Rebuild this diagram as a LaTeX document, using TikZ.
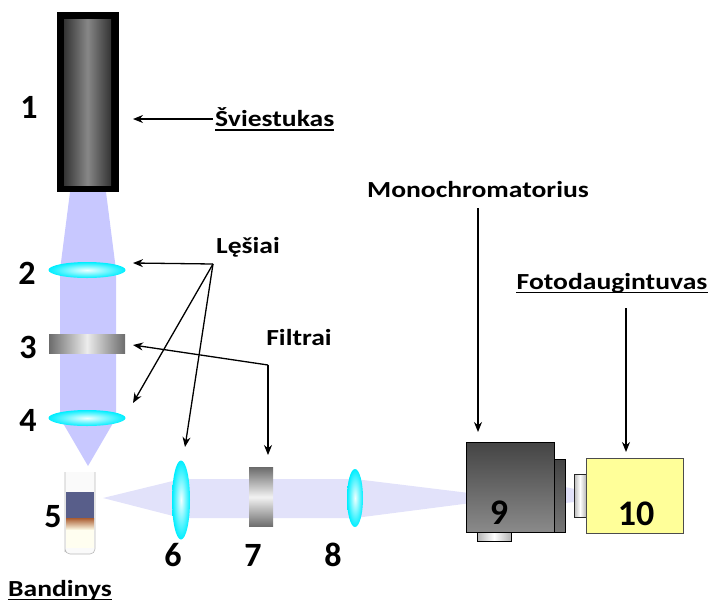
\documentclass[tikz,border=0pt]{standalone}
\usepackage{fontspec}
\setmainfont{Carlito}
\newfontfamily\labfont[FakeStretch=1.2]{Carlito}
\usetikzlibrary{arrows.meta,shapes.geometric}

\definecolor{beamv}{RGB}{200,200,255}
\definecolor{beamh}{RGB}{226,226,250}
\definecolor{lenscyan}{RGB}{0,238,255}
\definecolor{liquid}{RGB}{88,94,138}
\definecolor{band}{RGB}{170,92,48}
\definecolor{pmtyellow}{RGB}{255,255,153}
\definecolor{boxtop}{RGB}{68,68,68}
\definecolor{boxbot}{RGB}{138,138,138}
\definecolor{lampedge}{RGB}{52,52,52}
\definecolor{lampmid}{RGB}{135,135,135}

\tikzset{
  lbl/.style={font=\labfont\bfseries\fontsize{23}{23}\selectfont, inner sep=0pt},
  num/.style={font=\bfseries\fontsize{34}{34}\selectfont, inner sep=0pt},
  bignum/.style={font=\bfseries\fontsize{36}{36}\selectfont, inner sep=0pt},
  ptr/.style={line width=1.3pt, -{Stealth[length=10pt,width=8pt]}},
  lensbox/.style={ellipse, draw=none, inner sep=0pt, inner color=cyan!6!white, outer color=lenscyan},
  filterh/.style={rectangle, draw=none, inner sep=0pt, left color=gray!85!black, right color=gray!85!black, middle color=gray!15},
  filterv/.style={rectangle, draw=none, inner sep=0pt, top color=gray!85!black, bottom color=gray!85!black, middle color=gray!10},
  uline/.style={line width=1.4pt},
}

\begin{document}
\begin{tikzpicture}[x=1pt,y=-1pt]
\useasboundingbox (0,0) rectangle (713,606);

% light beams
\fill[beamv] (70,192) -- (106,192) -- (116,270) -- (116,418) -- (88,466) -- (60,418) -- (60,270) -- cycle;
\fill[beamh] (103,498) -- (181,479) -- (355,479) -- (510,498) -- (355,518) -- (181,518) -- cycle;
\fill[beamh] (565,487) -- (575,489) -- (575,502) -- (565,503) -- cycle;

% lamp
\node[rectangle, fill=black, minimum width=62pt, minimum height=180pt, inner sep=0pt] (lamp) at (88,102) {};
\shade[left color=lampedge, right color=lampedge, middle color=lampmid] (64,19) rectangle (111,185);

% vertical optics
\node[lensbox, minimum width=77pt, minimum height=16pt] (L2) at (87,270) {};
\node[filterh, minimum width=76pt, minimum height=19pt] (F3) at (87,344) {};
\node[lensbox, minimum width=77pt, minimum height=16pt] (L4) at (87,418) {};

% horizontal optics
\node[lensbox, minimum width=18pt, minimum height=79pt] (L6) at (181,500) {};
\node[filterv, minimum width=24pt, minimum height=59pt] (F7) at (261,497) {};
\node[lensbox, minimum width=16pt, minimum height=58pt] (L8) at (355,498) {};

% sample tube
\draw[gray!55, line width=0.6pt, fill=white!96!gray] (65,472) -- (65,552) [rounded corners=5pt] -- (65,554) -- (95,554) [sharp corners] -- (95,472);
\fill[liquid] (66,492) rectangle (94,518);
\shade[top color=band, bottom color=white!92!yellow] (66,518) rectangle (94,530);
\fill[white!94!yellow] (66,530) rectangle (94,548);
\coordinate (tube) at (80,512);

% monochromator
\shade[top color=boxtop, bottom color=boxbot!85!black, draw=black, line width=0.6pt] (554,459) rectangle (565,532);
\node[rectangle, draw=black, line width=0.6pt, minimum width=88pt, minimum height=90pt, inner sep=0pt,
      top color=boxtop, bottom color=boxbot] (mono) at (510,487) {};
\shade[left color=gray!60, right color=gray!60, middle color=white, draw=black, line width=0.6pt] (477,532) rectangle (511,541);

% photomultiplier
\shade[left color=gray!55, right color=gray!55, middle color=white, draw=gray!30!black, line width=0.6pt] (574,474) rectangle (586,517);
\node[rectangle, draw=gray!60!black, line width=0.8pt, fill=pmtyellow, minimum width=97pt, minimum height=75pt, inner sep=0pt] (pmt) at (634.5,495.5) {};

% numbers
\node[num] (n1) at (29,107) {1};
\node[num] (n2) at (27,273) {2};
\node[num] (n3) at (28,347) {3};
\node[num] (n4) at (28,420) {4};
\node[num] (n5) at (53,517) {5};
\node[num] (n6) at (173,555) {6};
\node[num] (n7) at (253,555) {7};
\node[num] (n8) at (333,555) {8};
\node[bignum] (n9) at (499,513) {9};
\node[bignum] (n10) at (636,514) {10};

% captions
\node[lbl, anchor=west] (light) at (215,117) {Šviestukas};
\draw[uline] ([yshift=-3.5pt]light.base west) -- ([yshift=-3.5pt]light.base east);
\node[lbl] (lens) at (248,247) {Lęšiai};
\node[lbl] (filt) at (299,338) {Filtrai};
\node[lbl] (monolbl) at (478,190) {Monochromatorius};
\node[lbl] (pmtlbl) at (612,283) {Fotodaugintuvas};
\draw[uline] ([yshift=-3.5pt]pmtlbl.base west) -- ([yshift=-3.5pt]pmtlbl.base east);
\node[lbl] (sample) at (60,590) {Bandinys};
\draw[uline] ([yshift=-3.5pt]sample.base west) -- ([yshift=-3.5pt]sample.base east);

% pointer arrows
\coordinate (lampS) at (213,119);
\coordinate (lampT) at (133,119);
\draw[ptr] (lampS) -- (lampT);

\coordinate (lensApex) at (213,264);
\coordinate (lensT2) at (133,263);
\coordinate (lensT4) at (133,403);
\coordinate (lensT6) at (185,447);
\draw[ptr] (lensApex) -- (lensT2);
\draw[ptr] (lensApex) -- (lensT4);
\draw[ptr] (lensApex) -- (lensT6);

\coordinate (filtCorner) at (268,365);
\coordinate (filtT3) at (133,345);
\coordinate (filtT7) at (268,455);
\draw[ptr] (filtCorner) -- (filtT3);
\draw[ptr] (filtCorner) -- (filtT7);

\coordinate (monoS) at (478,208);
\coordinate (monoT) at (478,432);
\draw[ptr] (monoS) -- (monoT);

\coordinate (pmtS) at (626,308);
\coordinate (pmtT) at (626,452);
\draw[ptr] (pmtS) -- (pmtT);
\end{tikzpicture}
\end{document}
